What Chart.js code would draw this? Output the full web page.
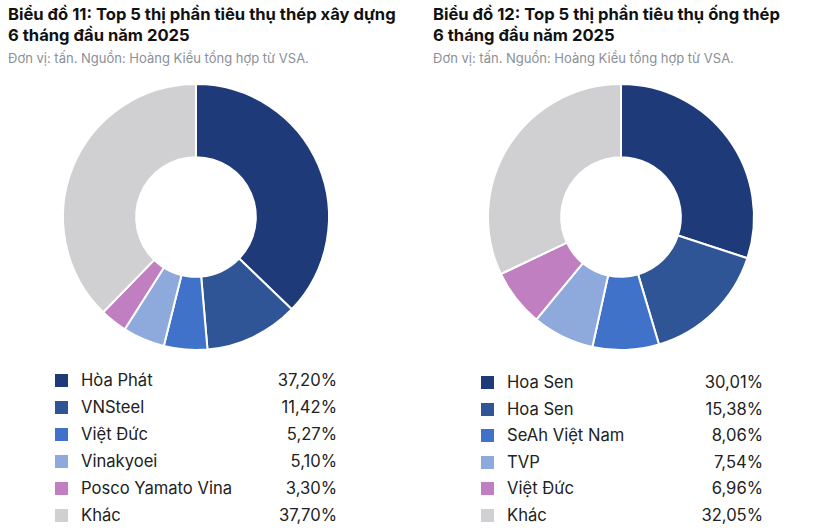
<!DOCTYPE html>
<html><head><meta charset="utf-8">
<script src="https://cdn.jsdelivr.net/npm/chart.js@4"></script>
<style>
body{margin:0;width:820px;height:530px;background:#fff;font-family:Inter,"Noto Sans",sans-serif;position:relative;overflow:hidden}
.t{position:absolute;font-weight:700;font-size:16.6px;line-height:21px;color:#111}
.s{position:absolute;font-size:13px;color:#8a8f98}
.c{position:absolute;width:280px;height:280px}
.lg{position:absolute;font-size:16.6px;color:#222}
.row{position:relative;height:27px;line-height:27px}
.sq{position:absolute;left:0;top:7px;width:13px;height:13px}
.lb{position:absolute;left:26px}
.v{position:absolute;right:0}
</style></head><body>
<div class="t" style="left:8px;top:4px">Biểu đồ 11: Top 5 thị phần tiêu thụ thép xây dựng<br>6 tháng đầu năm 2025</div>
<div class="s" style="left:8px;top:50px">Đơn vị: tấn. Nguồn: Hoàng Kiều tổng hợp từ VSA.</div>
<div class="t" style="left:433px;top:4px">Biểu đồ 12: Top 5 thị phần tiêu thụ ống thép<br>6 tháng đầu năm 2025</div>
<div class="s" style="left:433px;top:50px">Đơn vị: tấn. Nguồn: Hoàng Kiều tổng hợp từ VSA.</div>
<div class="c" style="left:56px;top:77px"><canvas id="c1"></canvas></div>
<div class="c" style="left:481px;top:77px"><canvas id="c2"></canvas></div>
<div class="lg" id="l1" style="left:55px;top:367px;width:282px"></div>
<div class="lg" id="l2" style="left:481px;top:369px;width:282px"></div>
<script>
const colors = ["#1e3a78", "#2f5596", "#3f72c8", "#8eaadc", "#c07fc0", "#d0d0d2"];
const labels1 = ["Hòa Phát", "VNSteel", "Việt Đức", "Vinakyoei", "Posco Yamato Vina", "Khác"];
const values1 = [37.20, 11.42, 5.27, 5.10, 3.30, 37.70];
const labels2 = ["Hoa Sen", "Hoa Sen", "SeAh Việt Nam", "TVP", "Việt Đức", "Khác"];
const values2 = [30.01, 15.38, 8.06, 7.54, 6.96, 32.05];

function makeChart(id, labels, values) {
  new Chart(document.getElementById(id), {
    type: "doughnut",
    data: { labels: labels, datasets: [{ data: values, backgroundColor: colors, borderColor: "#fff", borderWidth: 2 }] },
    options: {
      responsive: false, animation: false, cutout: "45%",
      layout: { padding: 6 },
      plugins: { legend: { display: false }, tooltip: { enabled: false } }
    }
  });
}
function makeLegend(id, labels, values, h) {
  const el = document.getElementById(id);
  labels.forEach(function (l, i) {
    el.innerHTML += '<div class="row" style="height:' + h + 'px;line-height:' + h + 'px"><span class="sq" style="background:' + colors[i] +
      '"></span><span class="lb">' + l + '</span><span class="v">' + values[i].toFixed(2).replace(".", ",") + '%</span></div>';
  });
}
document.getElementById("c1").width = 280; document.getElementById("c1").height = 280;
document.getElementById("c2").width = 280; document.getElementById("c2").height = 280;
makeChart("c1", labels1, values1);
makeChart("c2", labels2, values2);
makeLegend("l1", labels1, values1, 27);
makeLegend("l2", labels2, values2, 26.6);
</script>
</body></html>
